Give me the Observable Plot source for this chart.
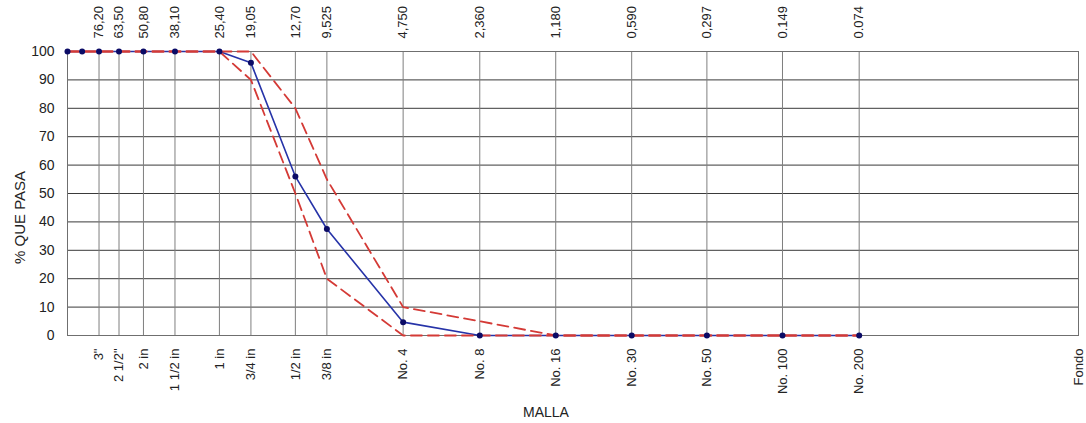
<!DOCTYPE html>
<html>
<head>
<meta charset="utf-8">
<script src="https://cdn.jsdelivr.net/npm/d3@7"></script>
<script src="https://cdn.jsdelivr.net/npm/@observablehq/plot@0.6"></script>
<style>
  html, body { margin: 0; padding: 0; background: #fff; }
</style>
</head>
<body>
<div id="chart"></div>
<script>
// Sieve sizes (mm), including 4" and 3 1/2" at the left
const sizes = [101.6, 88.9, 76.2, 63.5, 50.8, 38.1, 25.4, 19.05, 12.7, 9.525, 4.75, 2.36, 1.18, 0.59, 0.297, 0.149, 0.074];
const passing = [100, 100, 100, 100, 100, 100, 100, 96, 56, 37.5, 4.7, 0, 0, 0, 0, 0, 0];
const upperLimit = [100, 100, 100, 100, 100, 100, 100, 100, 80, 55, 10, 5, 0, 0, 0, 0, 0];
const lowerLimit = [100, 100, 100, 100, 100, 100, 100, 90, 50, 20, 0, 0, 0, 0, 0, 0, 0];

// Grid / axis positions
const gridSizes = [76.2, 63.5, 50.8, 38.1, 25.4, 19.05, 12.7, 9.525, 4.75, 2.36, 1.18, 0.59, 0.297, 0.149, 0.074];
const topLabels = ["76,20", "63,50", "50,80", "38,10", "25,40", "19,05", "12,70", "9,525", "4,750", "2,360", "1,180", "0,590", "0,297", "0.149", "0.074"];
const bottomSizes = [76.2, 63.5, 50.8, 38.1, 25.4, 19.05, 12.7, 9.525, 4.75, 2.36, 1.18, 0.59, 0.297, 0.149, 0.074, 0.01];
const bottomLabels = ["3\"", "2 1/2\"", "2 in", "1 1/2 in", "1 in", "3/4 in", "1/2 in", "3/8 in", "No. 4", "No. 8", "No. 16", "No. 30", "No. 50", "No. 100", "No. 200", "Fondo"];
const yTicks = [0, 10, 20, 30, 40, 50, 60, 70, 80, 90, 100];

const rows = sizes.map((s, i) => ({size: s, pass: passing[i], upper: upperLimit[i], lower: lowerLimit[i]}));
const topRows = gridSizes.map((s, i) => ({size: s, label: topLabels[i]}));
const bottomRows = bottomSizes.map((s, i) => ({size: s, label: bottomLabels[i]}));

const chart = Plot.plot({
  width: 1086,
  height: 423,
  marginLeft: 67,
  marginRight: 8,
  marginTop: 51,
  marginBottom: 88,
  style: {fontFamily: "'Liberation Sans', Arial, sans-serif", fontSize: "13px", background: "#fff", color: "#222"},
  x: {type: "log", domain: [101.6, 0.01], axis: null},
  y: {domain: [0, 100], axis: null},
  marks: [
    Plot.ruleY(yTicks, {stroke: "#3a3a3a", strokeWidth: 1}),
    Plot.ruleX(gridSizes, {stroke: "#7f7f7f", strokeWidth: 1}),
    Plot.frame({stroke: "#6f6f6f"}),
    Plot.axisY(yTicks, {tickSize: 0, tickPadding: 13, label: null, fontSize: 14}),
    Plot.text(topRows, {x: "size", text: "label", frameAnchor: "top", dy: -13, rotate: -90, textAnchor: "start", lineAnchor: "middle", fontSize: 13, fill: "#222"}),
    Plot.text(bottomRows, {x: "size", text: "label", frameAnchor: "bottom", dy: 13, rotate: -90, textAnchor: "end", lineAnchor: "middle", fontSize: 13, fill: "#222"}),
    Plot.line(rows, {x: "size", y: "pass", stroke: "#2633a8", strokeWidth: 1.6}),
    Plot.line(rows, {x: "size", y: "upper", stroke: "#d43a36", strokeWidth: 1.8, strokeDasharray: "11,6"}),
    Plot.line(rows, {x: "size", y: "lower", stroke: "#d43a36", strokeWidth: 1.8, strokeDasharray: "11,6"}),
    Plot.dot(rows, {x: "size", y: "pass", r: 3, fill: "#0b0b66", stroke: "none"}),
    Plot.text(["% QUE PASA"], {frameAnchor: "left", dx: -47, dy: 24, rotate: -90, textAnchor: "middle", lineAnchor: "middle", fontSize: 15, fill: "#222"}),
    Plot.text(["MALLA"], {frameAnchor: "bottom", dx: -27, dy: 77, textAnchor: "middle", lineAnchor: "middle", fontSize: 14, fill: "#222"})
  ]
});
document.getElementById("chart").appendChild(chart);
</script>
</body>
</html>
